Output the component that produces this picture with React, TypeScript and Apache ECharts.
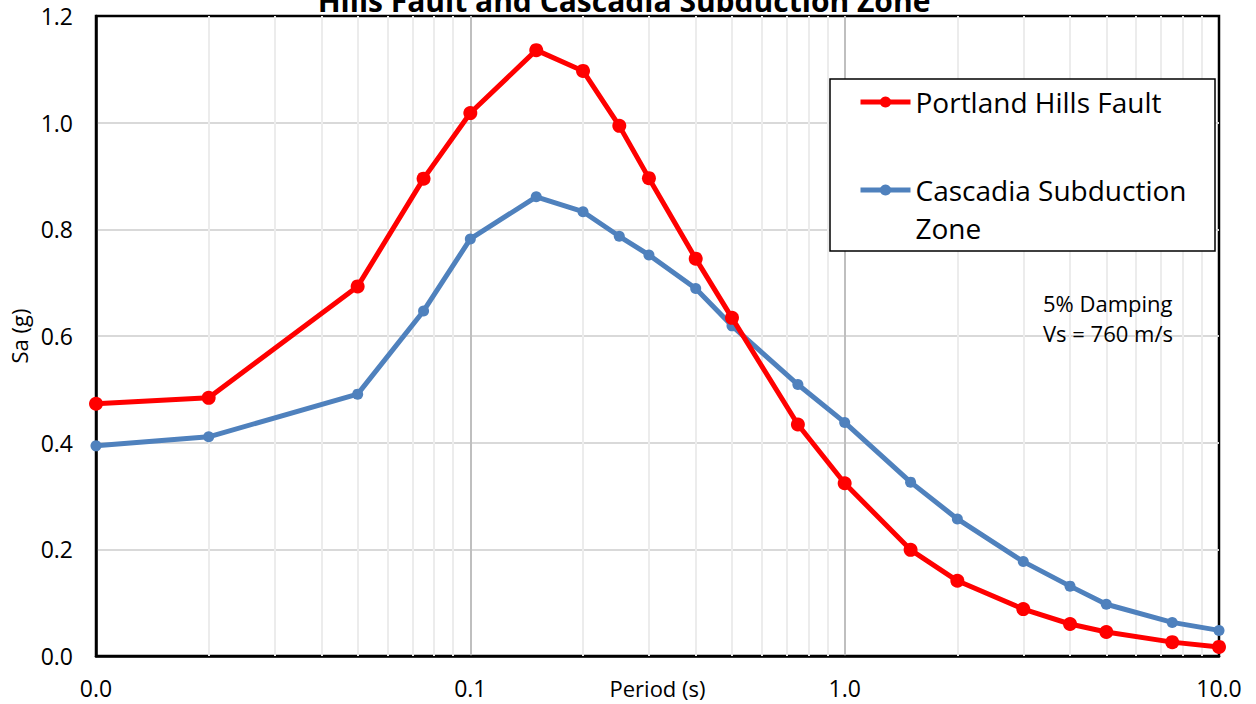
import React, { useEffect, useRef } from "react";
import * as echarts from "echarts";

const periods = [0.01, 0.02, 0.05, 0.075, 0.1, 0.15, 0.2, 0.25, 0.3, 0.4, 0.5, 0.75, 1.0, 1.5, 2.0, 3.0, 4.0, 5.0, 7.5, 10.0];
const portlandHills = [0.473, 0.484, 0.693, 0.895, 1.018, 1.136, 1.097, 0.994, 0.896, 0.745, 0.634, 0.434, 0.324, 0.199, 0.141, 0.088, 0.06, 0.045, 0.026, 0.017];
const cascadia = [0.394, 0.411, 0.491, 0.647, 0.782, 0.861, 0.833, 0.787, 0.752, 0.689, 0.619, 0.509, 0.438, 0.326, 0.257, 0.177, 0.131, 0.097, 0.063, 0.048];
const minorGridPeriods = [0.02, 0.03, 0.04, 0.05, 0.06, 0.07, 0.08, 0.09, 0.2, 0.3, 0.4, 0.5, 0.6, 0.7, 0.8, 0.9, 2, 3, 4, 5, 6, 7, 8, 9];

const seriesNames = ["Portland Hills Fault", "Cascadia Subduction Zone"];
const titleText = "Hills Fault and Cascadia Subduction Zone";
const xAxisName = "Period (s)";
const yAxisName = "Sa (g)";
const noteText = "5% Damping\nVs = 760 m/s";

const FONT = "'Open Sans', 'Noto Sans', sans-serif";

export default function App() {
  const ref = useRef<HTMLDivElement>(null);

  useEffect(() => {
    document.body.style.margin = "0";
    if (!ref.current) return;
    const chart = echarts.init(ref.current, null, { renderer: "svg" });

    const red = periods.map((p, i) => [p, portlandHills[i]]);
    const blue = periods.map((p, i) => [p, cascadia[i]]);

    chart.setOption({
      animation: false,
      backgroundColor: "#ffffff",
      textStyle: { fontFamily: FONT },
      title: {
        text: titleText,
        left: 624,
        textAlign: "center",
        top: -15,
        padding: 0,
        textStyle: { fontFamily: FONT, fontSize: 30, fontWeight: "bold", color: "#000", lineHeight: 30 },
      },
      grid: {
        left: 96,
        right: 37,
        top: 16,
        bottom: 48,
        outerBoundsMode: "none",
        containLabel: false,
        show: true,
        borderColor: "#000",
        borderWidth: 2.5,
        backgroundColor: "#fff",
      },
      legend: {
        left: 830,
        top: 78,
        orient: "vertical",
        padding: [5, 5, 5, 28],
        itemWidth: 50,
        itemHeight: 14,
        itemGap: 12,
        backgroundColor: "transparent",
        borderWidth: 0,
        z: 20,
        lineStyle: { width: 5 },
        textStyle: { fontFamily: FONT, fontSize: 28, color: "#000", lineHeight: 38 },
        formatter: (name: string) => (name === seriesNames[1] ? "\nCascadia Subduction\nZone" : name),
        data: [seriesNames[0], seriesNames[1]],
      },
      graphic: [
        {
          type: "rect",
          z: 15,
          shape: { x: 830, y: 79, width: 385, height: 172 },
          style: { fill: "#fff", stroke: "#000", lineWidth: 1.5 },
        },
        {
          type: "text",
          z: 15,
          left: 1043,
          top: 288,
          style: { text: noteText, font: `22px ${FONT}`, fill: "#000", lineHeight: 30 },
        },
      ],
      xAxis: {
        type: "log",
        logBase: 10,
        min: 0.01,
        max: 10,
        name: xAxisName,
        nameLocation: "middle",
        nameGap: 21,
        nameMoveOverlap: false,
        nameTextStyle: { fontFamily: FONT, fontSize: 22, color: "#000", verticalAlign: "top" },
        axisLine: { show: true, lineStyle: { color: "#000", width: 2.5 } },
        axisTick: { show: false },
        axisLabel: {
          fontFamily: FONT,
          fontSize: 23,
          color: "#000",
          margin: 20,
          showMinLabel: true,
          showMaxLabel: true,
          formatter: (v: number) => v.toFixed(1),
        },
        splitLine: { show: true, showMinLine: false, showMaxLine: false, lineStyle: { color: "#bfbfbf", width: 2 } },
      },
      yAxis: {
        type: "value",
        min: 0,
        max: 1.2,
        interval: 0.2,
        name: yAxisName,
        nameLocation: "middle",
        nameGap: 61,
        nameRotate: 90,
        nameTextStyle: { fontFamily: FONT, fontSize: 22, color: "#000" },
        axisLine: { show: true, lineStyle: { color: "#000", width: 2.5 } },
        axisTick: { show: false },
        axisLabel: {
          fontFamily: FONT,
          fontSize: 23,
          color: "#000",
          margin: 23,
          formatter: (v: number) => v.toFixed(1),
        },
        splitLine: { show: true, showMinLine: false, showMaxLine: false, lineStyle: { color: "#d9d9d9", width: 2 } },
      },
      series: [
        {
          name: "_minorGrid",
          type: "line",
          data: [],
          silent: true,
          z: 1,
          markLine: {
            silent: true,
            z: 1,
            symbol: "none",
            label: { show: false },
            lineStyle: { color: "#ececec", width: 2, type: "solid" },
            emphasis: { disabled: true },
            data: minorGridPeriods.map((p) => ({ xAxis: p })),
          },
        },
        {
          name: seriesNames[1],
          type: "line",
          data: blue,
          z: 3,
          symbol: "circle",
          symbolSize: 11,
          showAllSymbol: true,
          lineStyle: { color: "#4f81bd", width: 5 },
          itemStyle: { color: "#4f81bd" },
        },
        {
          name: seriesNames[0],
          type: "line",
          data: red,
          z: 4,
          symbol: "circle",
          symbolSize: 14,
          showAllSymbol: true,
          lineStyle: { color: "#ff0000", width: 5 },
          itemStyle: { color: "#ff0000" },
        },
      ],
    });

    return () => chart.dispose();
  }, []);

  return <div ref={ref} style={{ width: 1256, height: 704 }} />;
}
